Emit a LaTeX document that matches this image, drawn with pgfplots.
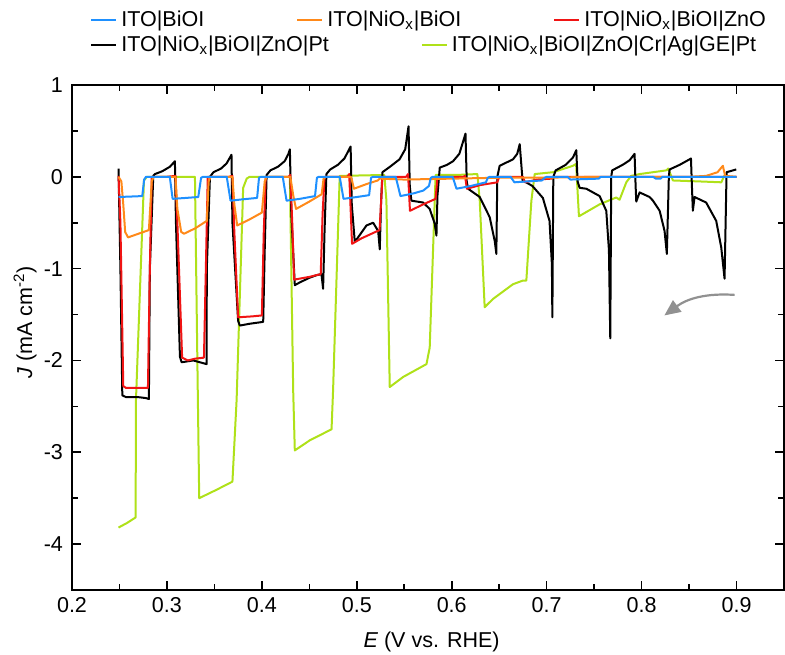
\documentclass[border=0pt]{standalone}
\usepackage{pgfplots}
\pgfplotsset{compat=1.18}
\usepackage{fontspec}
\setmainfont{Liberation Sans}
\usetikzlibrary{arrows.meta}
\definecolor{cblue}{RGB}{30,144,255}
\definecolor{corange}{RGB}{255,137,25}
\definecolor{cred}{RGB}{240,20,20}
\definecolor{cgreen}{RGB}{175,225,25}
\definecolor{carrow}{RGB}{145,145,145}
\newcommand{\lfont}{\fontsize{10.8}{13}\selectfont}
\begin{document}
\begin{tikzpicture}
\begin{axis}[
  name=main,
  scale only axis, width=356bp, height=252.5bp,
  xmin=0.2, xmax=0.95, ymin=-4.5, ymax=1,
  xtick={0.2,0.3,0.4,0.5,0.6,0.7,0.8,0.9}, minor x tick num=1,
  ytick={-4,-3,-2,-1,0,1}, minor y tick num=1,
  xtick pos=both, ytick pos=both, xticklabel pos=lower, yticklabel pos=left,
  tick align=inside,
  major tick length=4.5bp, minor tick length=2.8bp,
  axis line style={line width=0.8bp},
  every tick/.style={line width=0.8bp, black},
  ticklabel style={font=\lfont},
  /pgf/number format/assume math mode=true,
  xticklabel style={/pgf/number format/fixed, /pgf/number format/precision=1, /pgf/number format/fixed zerofill},
  yticklabel style={xshift=-1bp},
  label style={font=\lfont},
  xlabel={\textit{E} (V vs. RHE)},
  ylabel={\textit{J} (mA cm\textsuperscript{-2})},
  x label style={at={(axis description cs:0.505,-0.103)}, anchor=center},
  y label style={at={(axis description cs:-0.066,0.53)}, anchor=center},
  legend image code/.code={\draw[#1] (0bp,0bp) -- (12.5bp,0bp);},
  legend style={draw=none, fill=none, font=\lfont, inner sep=0pt,
    at={(0.0253,1.128)}, anchor=west,
    /tikz/every even column/.append style={column sep=44bp}},
  legend columns=3, legend cell align=left, reverse legend,
  every axis plot/.append style={line width=1bp, line join=round},
]
% green
\addplot[cgreen, forget plot] coordinates {
(0.249,-3.82) (0.258,-3.77) (0.267,-3.71) (0.2674,-2.43) (0.2758,-0.04) (0.279,0.0)
(0.3295,0.0) (0.3326,-2.43) (0.334,-3.50) (0.352,-3.41) (0.369,-3.32) (0.3734,-2.43) (0.3803,-0.12) (0.384,-0.02) (0.387,0.0)
(0.4295,0.0) (0.433,-2.33) (0.4347,-2.98) (0.4505,-2.87) (0.4734,-2.75) (0.475,-2.33) (0.482,0.01)
(0.529,0.02) (0.5312,-0.26) (0.5347,-2.29) (0.5488,-2.18) (0.5734,-2.04) (0.5768,-1.86) (0.5821,-0.26) (0.583,0.02)
(0.605,0.02) (0.627,0.03) (0.6295,-0.26) (0.6347,-1.42) (0.6435,-1.33) (0.6645,-1.17) (0.675,-1.13) (0.6786,-1.13) (0.6839,-0.26) (0.6874,0.03)
(0.7067,0.05) (0.7277,0.12) (0.731,0.14) (0.734,-0.43) (0.7558,-0.30) (0.7733,-0.225) (0.7768,-0.25) (0.7839,-0.06) (0.789,0.01)
(0.798,0.03) (0.826,0.07) (0.828,0.09) (0.8315,0.0) (0.833,-0.04) (0.860,-0.05) (0.884,-0.06) (0.887,0.01) (0.889,0.0)
};
% black
\addplot[black, forget plot] coordinates {
(0.249,0.09) (0.251,-1.0) (0.253,-2.38) (0.257,-2.40) (0.270,-2.40) (0.278,-2.41) (0.281,-2.42) (0.282,-1.0) (0.2856,0.01)
(0.2874,0.03) (0.295,0.06) (0.3032,0.11) (0.3084,0.17) (0.3095,-0.5)
(0.3137,-1.96) (0.3155,-2.02) (0.3277,-2.00) (0.3418,-2.04) (0.342,-1.0) (0.3453,0.0)
(0.349,0.05) (0.357,0.09) (0.3628,0.145) (0.368,0.24) (0.369,-0.5)
(0.375,-1.57) (0.3768,-1.62) (0.3874,-1.60) (0.4014,-1.58) (0.403,-0.8) (0.405,0.02)
(0.409,0.07) (0.417,0.11) (0.424,0.17) (0.428,0.25) (0.4295,0.30) (0.431,-0.4)
(0.4347,-1.18) (0.440,-1.15) (0.450,-1.10) (0.458,-1.07) (0.4628,-1.06) (0.4645,-1.22) (0.466,-0.6) (0.468,0.03)
(0.472,0.08) (0.480,0.13) (0.487,0.20) (0.4935,0.33) (0.4947,-0.3)
(0.4979,-0.71) (0.5102,-0.53) (0.5172,-0.50) (0.5225,-0.59) (0.5242,-0.79) (0.5255,-0.3) (0.527,0.05)
(0.535,0.11) (0.545,0.19) (0.551,0.30) (0.5545,0.55) (0.5558,-0.1)
(0.5575,-0.26) (0.5698,-0.28) (0.5768,-0.35) (0.5821,-0.51) (0.5839,-0.64) (0.585,-0.2) (0.5874,0.10)
(0.595,0.13) (0.6014,0.17) (0.608,0.25) (0.6145,0.47) (0.6158,-0.05)
(0.6172,-0.13) (0.6295,-0.22) (0.640,-0.44) (0.6453,-0.70) (0.647,-0.84) (0.648,0.0) (0.6505,0.12)
(0.6645,0.19) (0.669,0.25) (0.6716,0.355) (0.6747,-0.05)
(0.6766,-0.05) (0.685,-0.10) (0.696,-0.23) (0.703,-0.48) (0.7055,-0.95) (0.706,-1.53) (0.707,0.0) (0.7095,0.07)
(0.720,0.13) (0.7277,0.21) (0.7312,0.29) (0.7326,-0.05)
(0.7347,-0.12) (0.7418,-0.13) (0.7558,-0.21) (0.7628,-0.37) (0.7656,-0.80) (0.767,-1.76) (0.768,0.0) (0.769,0.07)
(0.780,0.13) (0.7874,0.18) (0.7926,0.25) (0.7937,-0.1)
(0.7944,-0.27) (0.7979,-0.17) (0.8084,-0.22) (0.812,-0.26) (0.819,-0.37) (0.8242,-0.59) (0.8266,-0.84) (0.8287,0.0) (0.8295,0.08)
(0.840,0.13) (0.8505,0.19) (0.852,0.20) (0.853,-0.1)
(0.854,-0.37) (0.8558,-0.22) (0.868,-0.28) (0.8786,-0.48) (0.8839,-0.77) (0.8874,-1.11) (0.8895,0.05) (0.8997,0.08)
};
% red
\addplot[cred] coordinates {
(0.249,0.01) (0.251,-0.5) (0.254,-2.28) (0.257,-2.30) (0.270,-2.30) (0.280,-2.30) (0.282,-1.0) (0.284,0.0)
(0.300,0.0) (0.309,0.01) (0.311,-0.5) (0.316,-1.97) (0.322,-2.00) (0.330,-1.98) (0.339,-1.97) (0.341,-1.0) (0.343,0.0)
(0.365,0.0) (0.369,0.01) (0.371,-0.6) (0.375,-1.53) (0.390,-1.52) (0.400,-1.51) (0.402,-0.6) (0.404,0.0)
(0.428,0.0) (0.430,0.02) (0.432,-0.5) (0.434,-1.12) (0.450,-1.09) (0.462,-1.06) (0.464,-0.4) (0.466,0.0)
(0.490,0.0) (0.492,0.03) (0.495,-0.73) (0.505,-0.67) (0.524,-0.58) (0.527,0.0)
(0.552,0.0) (0.554,0.03) (0.556,-0.37) (0.570,-0.30) (0.583,-0.24) (0.585,0.0)
(0.612,0.0) (0.614,0.01) (0.616,-0.13) (0.630,-0.09) (0.648,-0.06) (0.650,0.0)
(0.675,0.0) (0.677,-0.06) (0.690,-0.03) (0.705,-0.02) (0.707,0.0) (0.80,0.0) (0.90,0.0)
};
\addlegendentry{ITO|NiO\textsubscript{x}|BiOI|ZnO}
% orange
\addplot[corange] coordinates {
(0.249,0.0) (0.252,-0.05) (0.254,-0.30) (0.256,-0.60) (0.259,-0.66) (0.270,-0.62) (0.281,-0.58) (0.284,-0.05) (0.286,0.0)
(0.309,0.0) (0.311,-0.35) (0.315,-0.60) (0.318,-0.62) (0.330,-0.56) (0.342,-0.48) (0.344,-0.05) (0.346,0.0)
(0.369,0.0) (0.371,-0.30) (0.374,-0.53) (0.386,-0.47) (0.400,-0.39) (0.403,-0.05) (0.405,0.0)
(0.430,0.0) (0.433,-0.20) (0.436,-0.35) (0.450,-0.27) (0.463,-0.19) (0.465,-0.02) (0.467,0.0)
(0.494,0.0) (0.497,-0.13) (0.510,-0.08) (0.522,-0.04) (0.524,-0.02)
(0.55,-0.03) (0.60,-0.02) (0.65,-0.01) (0.70,-0.01) (0.75,0.0) (0.80,0.0) (0.85,0.0)
(0.868,0.01) (0.880,0.05) (0.8856,0.12) (0.888,0.01) (0.90,0.0)
};
\addlegendentry{ITO|NiO\textsubscript{x}|BiOI}
% blue
\addplot[cblue] coordinates {
(0.249,-0.22) (0.262,-0.215) (0.274,-0.21) (0.276,-0.03) (0.278,0.0)
(0.303,0.0) (0.306,-0.24) (0.320,-0.23) (0.333,-0.22) (0.336,-0.01) (0.338,0.0)
(0.363,0.0) (0.367,-0.26) (0.380,-0.245) (0.395,-0.23) (0.397,-0.01) (0.399,0.0)
(0.422,0.0) (0.426,-0.26) (0.440,-0.24) (0.456,-0.21) (0.458,-0.01) (0.460,0.0)
(0.482,0.0) (0.486,-0.24) (0.500,-0.22) (0.513,-0.20) (0.515,-0.01) (0.517,0.0)
(0.541,0.0) (0.546,-0.21) (0.560,-0.18) (0.570,-0.15) (0.576,-0.10) (0.578,-0.01) (0.580,0.0)
(0.601,0.0) (0.605,-0.13) (0.620,-0.10) (0.636,-0.06) (0.638,-0.01) (0.640,0.0)
(0.662,0.0) (0.666,-0.06) (0.680,-0.05) (0.695,-0.04) (0.698,-0.01) (0.700,0.0)
(0.722,0.0) (0.725,-0.03) (0.755,-0.02) (0.757,0.0) (0.812,0.0) (0.815,-0.02) (0.820,-0.02) (0.822,0.0) (0.90,0.0)
};
\addlegendentry{ITO|BiOI}
\draw[carrow, line width=1.1bp, -{Triangle[length=8bp,width=7bp]}]
  (axis cs:0.898,-1.286) to[bend right=20] (axis cs:0.824,-1.51);
\end{axis}
\begin{axis}[
  scale only axis, width=356bp, height=252.5bp,
  xmin=0.2, xmax=0.95, ymin=-4.5, ymax=1,
  hide axis,
  legend image code/.code={\draw[#1] (0bp,0bp) -- (12.5bp,0bp);},
  legend style={draw=none, fill=none, font=\lfont, inner sep=0pt,
    at={(0.0253,1.0792)}, anchor=west,
    /tikz/every even column/.append style={column sep=44bp}},
  legend columns=2, legend cell align=left,
]
\addlegendimage{black, line width=1bp}
\addlegendentry{ITO|NiO\textsubscript{x}|BiOI|ZnO|Pt}
\addlegendimage{cgreen, line width=1bp}
\addlegendentry{ITO|NiO\textsubscript{x}|BiOI|ZnO|Cr|Ag|GE|Pt}
\end{axis}
\pgfresetboundingbox
\path ([xshift=-36bp,yshift=-32.5bp]main.south west) rectangle ([xshift=0.5bp,yshift=42.5bp]main.north east);
\end{tikzpicture}
\end{document}
